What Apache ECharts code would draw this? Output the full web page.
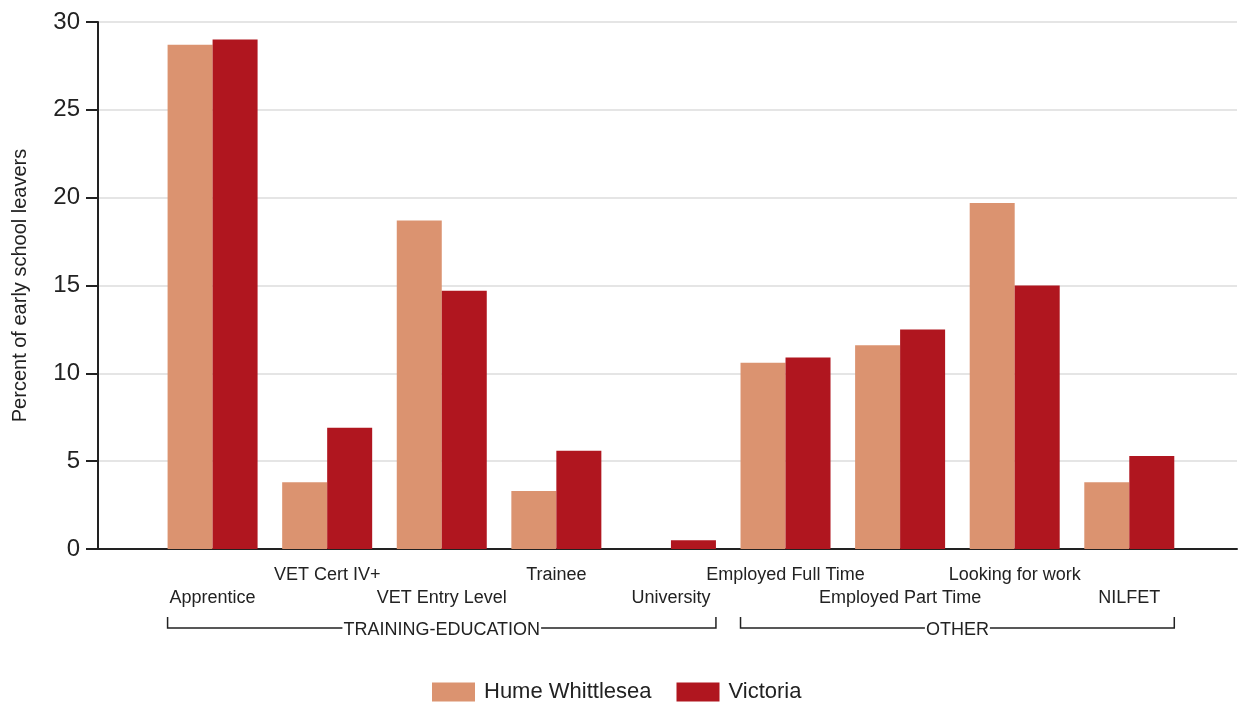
<!DOCTYPE html>
<html>
<head>
<meta charset="utf-8">
<script src="https://cdn.jsdelivr.net/npm/echarts@6/dist/echarts.min.js"></script>
<style>
html,body{margin:0;padding:0;background:#fff;}
#c{width:1245px;height:704px;}
</style>
</head>
<body>
<div id="c"></div>
<script>
const categories = ['Apprentice','VET Cert IV+','VET Entry Level','Trainee','University','Employed Full Time','Employed Part Time','Looking for work','NILFET'];
const humeWhittlesea = [28.7, 3.8, 18.7, 3.3, 0, 10.6, 11.6, 19.7, 3.8];
const victoria = [29.0, 6.9, 14.7, 5.6, 0.5, 10.9, 12.5, 15.0, 5.3];
const groups = [
  {name:'TRAINING-EDUCATION', from:0, to:4},
  {name:'OTHER', from:5, to:8}
];
const yTicks = [0,5,10,15,20,25,30];

const chart = echarts.init(document.getElementById('c'));
const font = 'Liberation Sans, Arial, sans-serif';
const option = {
  animation:false,
  grid:{left:98, top:22, right:8, bottom:155},
  legend:{
    data:['Hume Whittlesea','Victoria'],
    top:676, left:427,
    icon:'rect', itemWidth:43, itemHeight:19, itemGap:25,
    textStyle:{fontSize:22, fontFamily:font, color:'#222', padding:[0,0,0,4]}
  },
  xAxis:{
    type:'value', min:-1, max:8.94, interval:1,
    splitLine:{show:false},
    axisTick:{show:false},
    axisLine:{show:true, onZero:false, lineStyle:{color:'#222', width:2}},
    axisLabel:{
      showMaxLabel:false,
      margin:15, lineHeight:23, fontSize:18, fontFamily:font, color:'#222',
      formatter:function(v){
        const i = Math.round(v);
        if (i < 0 || i >= categories.length || Math.abs(v-i)>1e-6) return '';
        return (i % 2 === 0 ? '\n' : '') + categories[i];
      }
    }
  },
  yAxis:{
    type:'value', min:yTicks[0], max:yTicks[yTicks.length-1], interval:5,
    name:'Percent of early school leavers', nameLocation:'middle', nameGap:68,
    nameTextStyle:{fontSize:20, fontFamily:font, color:'#222'},
    axisLine:{show:true, onZero:false, lineStyle:{color:'#222', width:2}},
    axisTick:{show:true, length:12, lineStyle:{color:'#222', width:2}},
    axisLabel:{fontSize:24, fontFamily:font, color:'#222', margin:18},
    splitLine:{show:true, lineStyle:{color:'#dcdcdc', width:1.5}}
  },
  series:[
    {name:'Hume Whittlesea', type:'bar', barWidth:45, barGap:'0%',
     itemStyle:{color:'#DB9370'},
     data:humeWhittlesea.map((v,i)=>[i,v])},
    {name:'Victoria', type:'bar', barWidth:45, barGap:'0%',
     itemStyle:{color:'#B0161F'},
     data:victoria.map((v,i)=>[i,v])}
  ]
};
chart.setOption(option);

// group brackets computed from axis scale
const graphics = [];
const yLine = 628, yTop = 617;
groups.forEach(g=>{
  const x0 = chart.convertToPixel({xAxisIndex:0}, g.from) - 45;
  const x1 = chart.convertToPixel({xAxisIndex:0}, g.to) + 45;
  graphics.push({type:'polyline', silent:true,
    shape:{points:[[x0,yTop],[x0,yLine],[x1,yLine],[x1,yTop]]},
    style:{stroke:'#222', lineWidth:1.5, fill:null}});
  graphics.push({type:'text', silent:true, x:(x0+x1)/2, y:yLine+2,
    style:{text:g.name, fontSize:18, fontFamily:font, fill:'#222',
      align:'center', verticalAlign:'middle', backgroundColor:'#fff', padding:[0,1]}});
});
chart.setOption({graphic:graphics});
</script>
</body>
</html>
